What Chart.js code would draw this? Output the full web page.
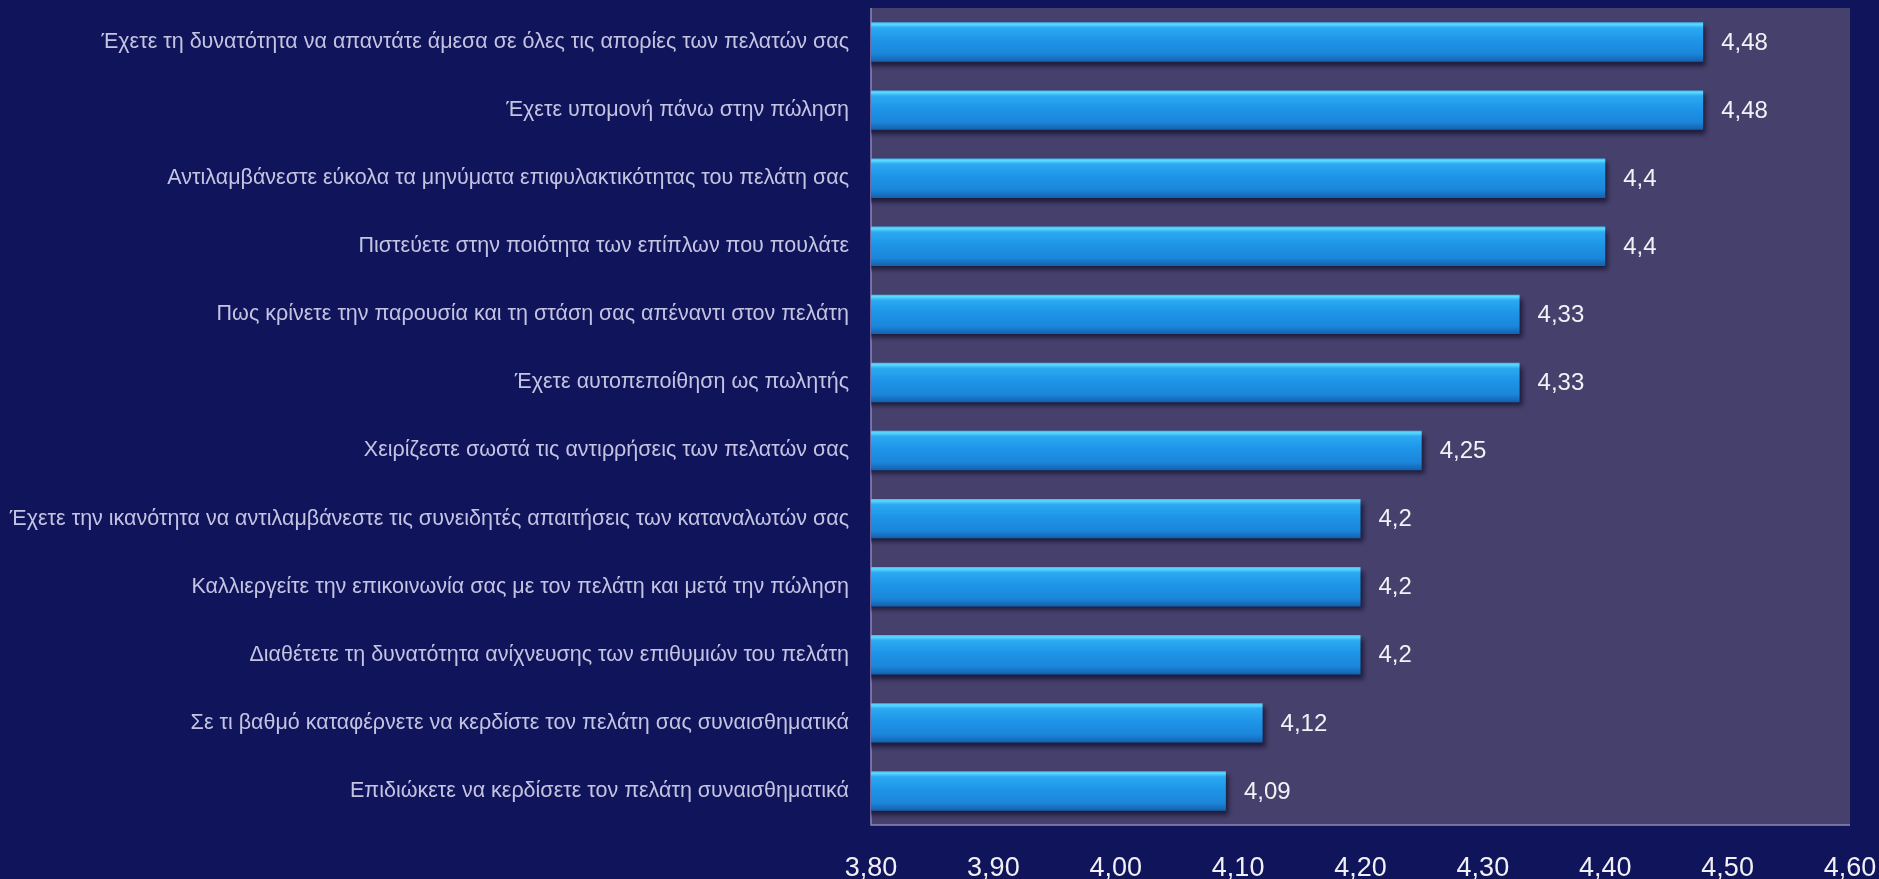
<!DOCTYPE html>
<html>
<head>
<meta charset="utf-8">
<script src="https://cdn.jsdelivr.net/npm/chart.js@4.4.1/dist/chart.umd.min.js"></script>
<style>
  html, body { margin: 0; padding: 0; background: #10145a; }
  #wrap { width: 1879px; height: 879px; }
</style>
</head>
<body>
<div id="wrap"><canvas id="grafico" width="1879" height="879"></canvas></div>
<script>
const preguntas = [
  'Έχετε τη δυνατότητα να απαντάτε άμεσα σε όλες τις απορίες των πελατών σας',
  'Έχετε υπομονή πάνω στην πώληση',
  'Αντιλαμβάνεστε εύκολα τα μηνύματα επιφυλακτικότητας του πελάτη σας',
  'Πιστεύετε στην ποιότητα των επίπλων που πουλάτε',
  'Πως κρίνετε την παρουσία και τη στάση σας απέναντι στον πελάτη',
  'Έχετε αυτοπεποίθηση ως πωλητής',
  'Χειρίζεστε σωστά τις αντιρρήσεις των πελατών σας',
  'Έχετε την ικανότητα να αντιλαμβάνεστε τις συνειδητές απαιτήσεις των καταναλωτών σας',
  'Καλλιεργείτε την επικοινωνία σας με τον πελάτη και μετά την πώληση',
  'Διαθέτετε τη δυνατότητα ανίχνευσης των επιθυμιών του πελάτη',
  'Σε τι βαθμό καταφέρνετε να κερδίστε τον πελάτη σας συναισθηματικά',
  'Επιδιώκετε να κερδίσετε τον πελάτη συναισθηματικά'
];
const medias = [4.48, 4.48, 4.4, 4.4, 4.33, 4.33, 4.25, 4.2, 4.2, 4.2, 4.12, 4.09];
const ejeMin = 3.8;
const ejeMax = 4.6;
const paso = 0.1;

const coma = (v, d) => (d == null ? String(v) : v.toFixed(d)).replace('.', ',');

// fondo del área del gráfico y bordes izquierdo/inferior
const fondoArea = {
  id: 'fondoArea',
  beforeDraw(chart) {
    const { ctx, chartArea: a } = chart;
    ctx.save();
    ctx.fillStyle = '#46406c';
    ctx.fillRect(a.left, a.top, a.right - a.left, a.bottom - a.top);
    ctx.strokeStyle = '#8a86b8';
    ctx.lineWidth = 1.5;
    ctx.beginPath();
    ctx.moveTo(a.left, a.top);
    ctx.lineTo(a.left, a.bottom);
    ctx.lineTo(a.right, a.bottom);
    ctx.stroke();
    ctx.restore();
  }
};

// sombra de las barras
const sombra = {
  id: 'sombra',
  beforeDatasetsDraw(chart) {
    const ctx = chart.ctx;
    ctx.save();
    ctx.shadowColor = 'rgba(5, 5, 30, 0.65)';
    ctx.shadowBlur = 5;
    ctx.shadowOffsetX = 3;
    ctx.shadowOffsetY = 4;
  },
  afterDatasetsDraw(chart) {
    chart.ctx.restore();
  }
};

// etiquetas con el valor al final de cada barra
const valores = {
  id: 'valores',
  afterDatasetsDraw(chart) {
    const ctx = chart.ctx;
    const meta = chart.getDatasetMeta(0);
    ctx.save();
    ctx.font = '24px "Liberation Sans", Arial, sans-serif';
    ctx.fillStyle = '#f2f2f6';
    ctx.textAlign = 'left';
    ctx.textBaseline = 'middle';
    meta.data.forEach((bar, i) => {
      ctx.fillText(coma(medias[i]), bar.x + 18, bar.y + 1);
    });
    ctx.restore();
  }
};

const barPct = 0.58;

function degradado(context) {
  const chart = context.chart;
  const y = chart.scales.y;
  if (!y || context.dataIndex == null) return '#1b8fe3';
  const centro = y.getPixelForTick(context.dataIndex);
  const mitad = (y.height / preguntas.length) * barPct / 2;
  if (!isFinite(centro) || !isFinite(mitad) || mitad <= 0) return '#1b8fe3';
  const g = chart.ctx.createLinearGradient(0, centro - mitad, 0, centro + mitad);
  g.addColorStop(0, '#3fb8f4');
  g.addColorStop(0.05, '#5cdaff');
  g.addColorStop(0.14, '#2caaf2');
  g.addColorStop(0.45, '#1e95e8');
  g.addColorStop(0.8, '#1b86da');
  g.addColorStop(1, '#1460ae');
  return g;
}

// sin margen extra por las etiquetas extremas
function sinPadding(s) {
  s.paddingTop = 0;
  s.paddingBottom = 0;
  s.paddingLeft = 0;
  s.paddingRight = 0;
}

const ctx = document.getElementById('grafico').getContext('2d');
new Chart(ctx, {
  type: 'bar',
  data: {
    labels: preguntas,
    datasets: [{
      data: medias,
      backgroundColor: degradado,
      borderWidth: 0,
      barPercentage: barPct,
      categoryPercentage: 1
    }]
  },
  options: {
    indexAxis: 'y',
    responsive: false,
    animation: false,
    layout: { padding: { top: 8, right: 29, left: 0, bottom: 0 } },
    plugins: {
      legend: { display: false },
      tooltip: { enabled: false }
    },
    scales: {
      x: {
        min: ejeMin,
        max: ejeMax,
        grid: { display: false, drawTicks: false },
        border: { display: false },
        afterFit(s) { s.height = 54; sinPadding(s); },
        ticks: {
          stepSize: paso,
          padding: 27,
          color: '#f0f0f6',
          font: { family: '"Liberation Sans", Arial, sans-serif', size: 27 },
          callback: v => coma(v, 2)
        }
      },
      y: {
        grid: { display: false, drawTicks: false },
        border: { display: false },
        afterFit(s) { s.width = 871; sinPadding(s); },
        ticks: {
          padding: 22,
          color: '#c4c4e2',
          font: { family: '"Liberation Sans", Arial, sans-serif', size: 21.5 }
        }
      }
    }
  },
  plugins: [fondoArea, sombra, valores]
});
</script>
</body>
</html>
